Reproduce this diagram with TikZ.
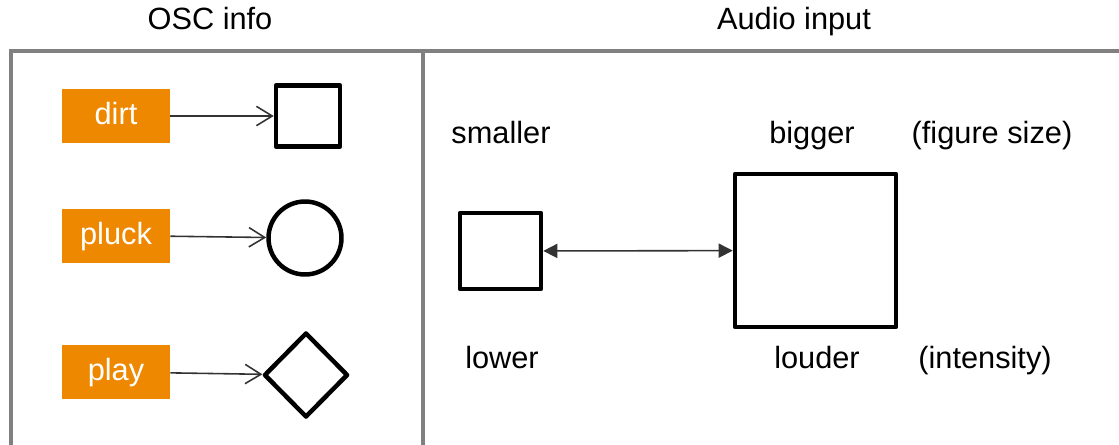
\documentclass[tikz,border=0pt]{standalone}
\usepackage{fontspec}
\setmainfont{Liberation Sans}
\usetikzlibrary{arrows.meta,shapes.geometric}

\definecolor{tagorange}{HTML}{EE8800}
\definecolor{framegray}{HTML}{808080}
\definecolor{linkgray}{HTML}{333333}

\begin{document}
\begin{tikzpicture}
  [x=0.02cm,y=-0.02cm,every node/.style={font=\fontsize{17.5}{20}\selectfont,inner sep=0pt,text height=0.98em,text depth=0pt}]

	\tikzset{
	tag/.style = {fill=tagorange,text=white,minimum width=2.16cm,minimum height=1.08cm},
	fig/.style = {draw=black,line width=0.09cm,line join=round,text height=,text depth=},
	link/.style = {draw=linkgray,line width=0.9pt,-{Straight Barb[length=9pt,width=11pt]}},
	scale link/.style = {draw=linkgray,line width=0.9pt,{Triangle[length=8pt,width=8pt]}-{Triangle[length=8pt,width=8pt]}}
	}

  \useasboundingbox (0,0) rectangle (1119,444);

  % panels
  \draw[framegray,line width=0.08cm] (11,446) -- (11,51) -- (1121,51);
  \draw[framegray,line width=0.08cm] (423,51) -- (423,446);

  \node (osc) at (210,21) {OSC info};
  \node (audio) at (794,21) {Audio input};

  % OSC info
  \node[tag] (dirt) at (116,116) {dirt};
  \node[tag] (pluck) at (116,235.5) {pluck};
  \node[tag] (play) at (116,372) {play};

  \node[fig,rectangle,minimum width=1.28cm,minimum height=1.22cm] (sq) at (308,116) {};
  \node[fig,circle,minimum size=1.46cm] (circ) at (305,238) {};
  \node[fig,diamond,aspect=1,minimum width=1.68cm,minimum height=1.7cm] (diam) at (306,375) {};

  \foreach \from/\to in {dirt/sq,pluck/circ,play/diam}
    \draw[link] (\from) -- (\to);

  % Audio input
  \node[fig,rectangle,minimum width=1.62cm,minimum height=1.52cm] (small) at (500.5,251) {};
  \node[fig,rectangle,minimum width=3.22cm,minimum height=3.06cm] (big) at (815.5,250.5) {};
  \draw[scale link] (small) -- (big);

  \node (smaller) at (501,135) {smaller};
  \node (bigger) at (812,135) {bigger};
  \node (size) at (992,135) {(figure size)};
  \node (lower) at (502,360) {lower};
  \node (louder) at (817,360) {louder};
  \node (intensity) at (985,360) {(intensity)};

\end{tikzpicture}
\end{document}
